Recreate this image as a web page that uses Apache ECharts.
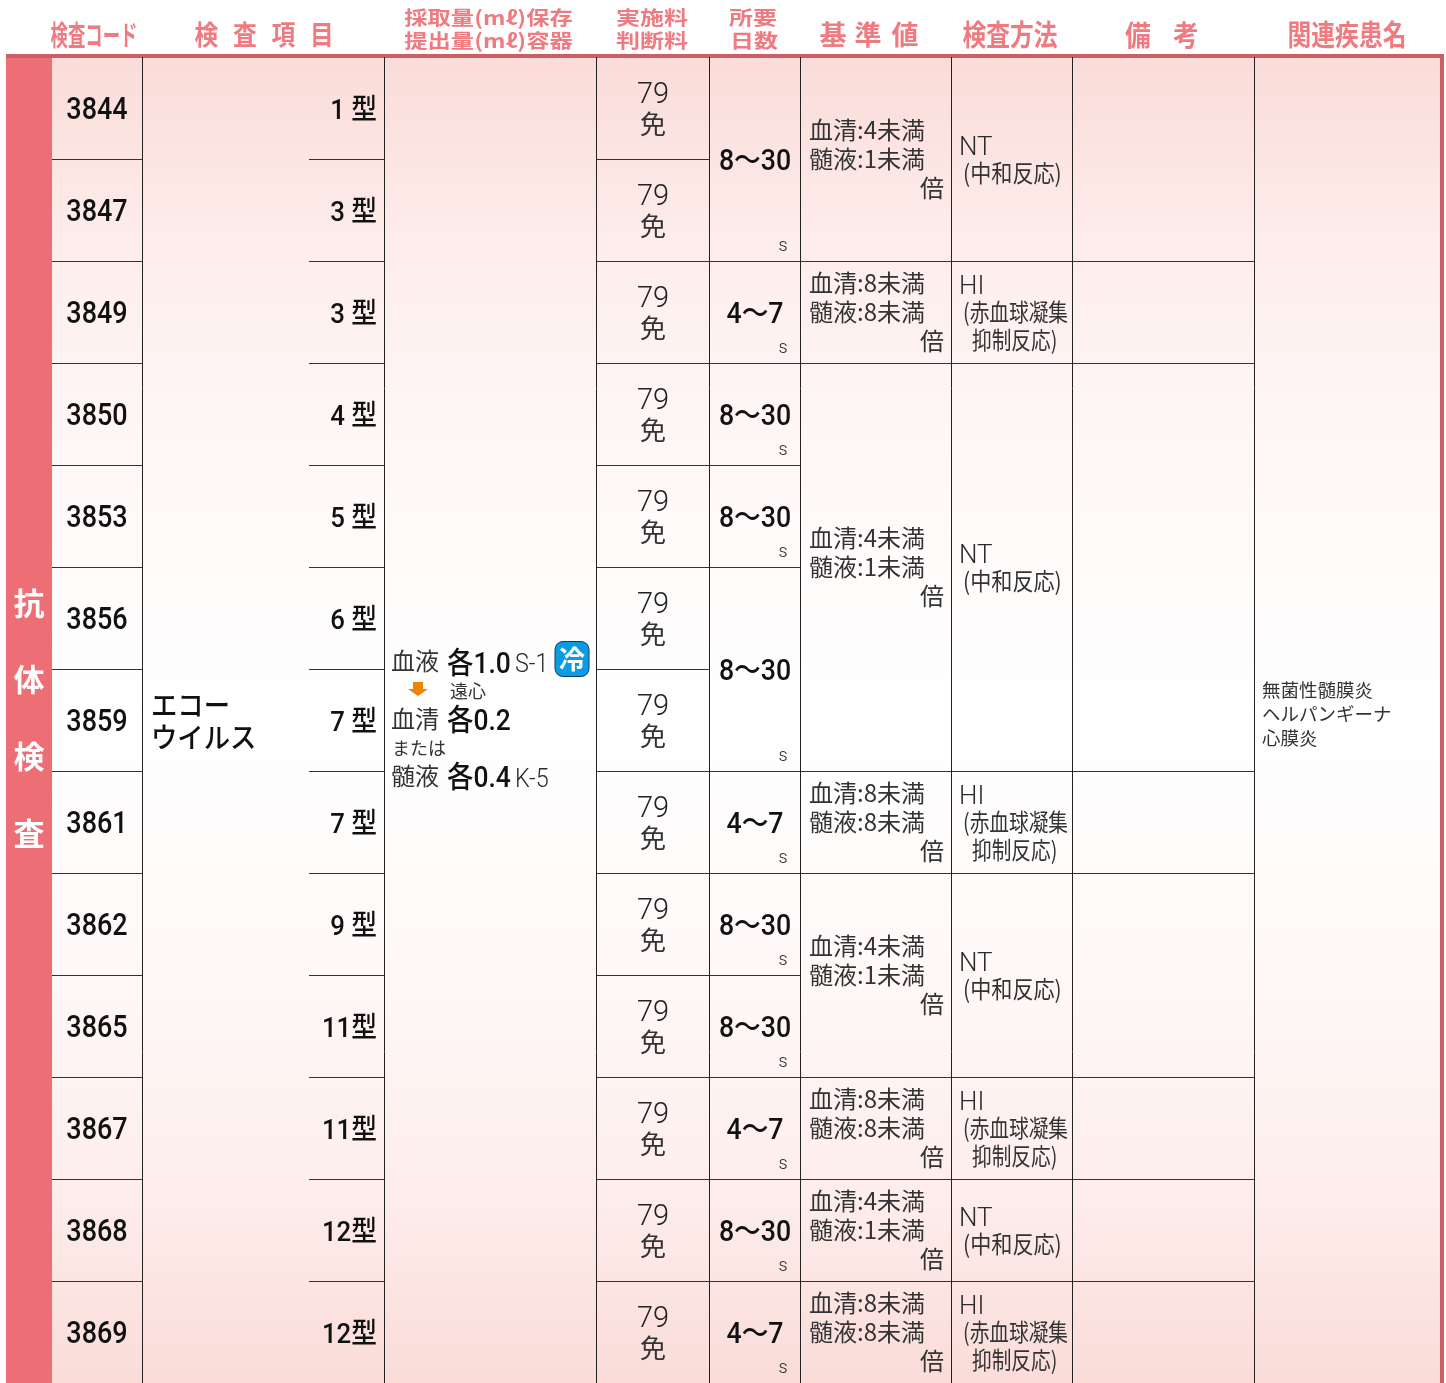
<!DOCTYPE html>
<html>
<head>
<meta charset="utf-8">
<title>抗体検査</title>
<script src="https://cdn.jsdelivr.net/npm/echarts@6/dist/echarts.min.js"></script>
<style>
  html, body { margin: 0; padding: 0; background: #fff; }
  #chart { width: 1446px; height: 1383px; }
</style>
</head>
<body>
<div id="chart"></div>
<script>
// table content
var codes = ['3844', '3847', '3849', '3850', '3853', '3856', '3859', '3861', '3862', '3865', '3867', '3868', '3869']
var types = ['1 型', '3 型', '3 型', '4 型', '5 型', '6 型', '7 型', '7 型', '9 型', '11型', '11型', '12型', '12型']
var fees = ['79', '79', '79', '79', '79', '79', '79', '79', '79', '79', '79', '79', '79']
var judge = ['免', '免', '免', '免', '免', '免', '免', '免', '免', '免', '免', '免', '免']
// [first row, row count, label]
var daySpans = [[0, 2, '8〜30'], [2, 1, '4〜7'], [3, 1, '8〜30'], [4, 1, '8〜30'], [5, 2, '8〜30'], [7, 1, '4〜7'], [8, 1, '8〜30'], [9, 1, '8〜30'], [10, 1, '4〜7'], [11, 1, '8〜30'], [12, 1, '4〜7']]
// [first row, row count, method]
var methodSpans = [[0, 2, 'NT'], [2, 1, 'HI'], [3, 4, 'NT'], [7, 1, 'HI'], [8, 2, 'NT'], [10, 1, 'HI'], [11, 1, 'NT'], [12, 1, 'HI']]
var baseText = {
  NT: ['血清:4未満', '髄液:1未満', '倍'],
  HI: ['血清:8未満', '髄液:8未満', '倍']
}
var methodText = {
  NT: ['NT', '(中和反応)'],
  HI: ['HI', '(赤血球凝集', '抑制反応)']
}
var sideTitle = ['抗', '体', '検', '査']
var itemName = ['エコー', 'ウイルス']
var diseases = ['無菌性髄膜炎', 'ヘルパンギーナ', '心膜炎']

// layout, x in px and y in table rows
var colX = [6, 52, 142.5, 384.5, 596.5, 709.5, 800.5, 951.5, 1072.5, 1254.5, 1440]
var rowCount = 13
var rowPx = 102
var yMin = -57 / rowPx

var JP = '"Noto Sans CJK JP"'
var NUM = 'Roboto, "Noto Sans CJK JP"'
var PINK = '#ef7a80'
var INK = '#2b2b2b'

var texts = []
function put(x, row, dy, text, size, opt) {
  opt = opt || {}
  var family = opt.family || JP
  texts.push({
    value: [x, row],
    // Roboto sits higher than the original digits
    dy: dy + (family === NUM ? 3.5 : 0),
    text: text,
    size: size,
    family: family,
    weight: opt.weight || 'normal',
    color: opt.color || INK,
    align: opt.align || 'left',
    sx: opt.sx || 1,
    sy: opt.sy || 1
  })
}

// header, y given as px below the first row top
function head(x, py, text, size, sx, sy) {
  put(x, yMin, py, text, size, { color: PINK, weight: 'bold', align: 'center', sx: sx || 1, sy: sy || 1 })
}
head(94, 35, '検査コード', 28, 0.62)
head(206.5, 35, '検', 27, 0.88); head(245, 35, '査', 27, 0.88); head(283.5, 35, '項', 27, 0.88); head(322, 35, '目', 27, 0.88)
head(488.5, 18, '採取量(mℓ)保存', 24, 0.97, 0.82)
head(488.5, 41, '提出量(mℓ)容器', 24, 0.97, 0.82)
head(652, 18, '実施料', 24, 1, 0.82); head(652, 41, '判断料', 24, 1, 0.82)
head(753, 18, '所要', 24, 1, 0.82); head(754, 41, '日数', 24, 1, 0.82)
head(833, 35, '基', 27); head(868, 35, '準', 27); head(905, 35, '値', 27)
head(1010, 35, '検査方法', 29, 0.82)
head(1138, 35, '備', 28, 0.92); head(1186, 35, '考', 28, 0.92)
head(1347, 35, '関連疾患名', 29, 0.82)

// side band
sideTitle.forEach(function (c, i) {
  put(29, 0, 603 - 57 + i * 76.7, c, 31, { color: '#fff', weight: 'bold', align: 'center' })
})

codes.forEach(function (code, i) {
  var mid = i + 0.5
  put(97, mid, 0, code, 31, { family: NUM, weight: 500, color: '#111', align: 'center', sx: 0.87 })
  put(377, mid, 0, types[i], 28, { family: NUM, weight: 500, color: '#111', align: 'right', sx: 0.92 })
  put(653, mid, -16, fees[i], 29, { family: NUM, weight: 300, color: '#222', align: 'center' })
  put(653, mid, 16, judge[i], 26, { align: 'center', color: '#333' })
})

daySpans.forEach(function (s) {
  var mid = s[0] + s[1] / 2
  put(755, mid, 0, s[2], 30, { family: NUM, weight: 500, color: '#111', align: 'center', sx: 0.89 })
  put(783, s[0] + s[1], -18, 's', 18, { family: NUM, weight: 300, align: 'center' })
})

methodSpans.forEach(function (s) {
  var mid = s[0] + s[1] / 2
  baseText[s[2]].forEach(function (line, j) {
    if (j === 2) put(944, mid, 29, line, 24, { align: 'right', color: '#333' })
    else put(809, mid, (j - 1) * 29, line, 24, { color: '#333', sx: 1.0 })
  })
  if (s[2] === 'NT') {
    put(959, mid, -14, 'NT', 26, { family: NUM, weight: 300 })
    put(963, mid, 14, methodText.NT[1], 24, { color: '#333', sx: 0.88 })
  } else {
    put(959, mid, -28, 'HI', 26, { family: NUM, weight: 300 })
    put(963, mid, 0, methodText.HI[1], 24, { color: '#333', sx: 0.82 })
    put(972, mid, 28, methodText.HI[2], 24, { color: '#333', sx: 0.82 })
  }
})

itemName.forEach(function (line, i) {
  put(151, 6.5, -15 + i * 32, line, 28, { color: '#111', weight: 500, sx: 0.94 })
})

diseases.forEach(function (line, i) {
  put(1262, 6.5, -30 + i * 24, line, 18.5, { color: '#333' })
})

// specimen cell
var specimenRow = 6
function spec(x, py, text, size, opt) { put(x, specimenRow, py - 669.5, text, size, opt) }
spec(391, 661, '血液', 24, { color: '#333' })
spec(447, 662, '各1.0', 30, { family: NUM, weight: 500, color: '#111', sx: 0.88 })
spec(515, 662, 'S-1', 26, { family: NUM, weight: 300, sx: 0.9 })
spec(450, 692, '遠心', 18, { color: '#333' })
spec(391, 719, '血清', 24, { color: '#333' })
spec(447, 719, '各0.2', 30, { family: NUM, weight: 500, color: '#111', sx: 0.88 })
spec(392, 749, 'または', 18, { color: '#333' })
spec(391, 776, '髄液', 24, { color: '#333' })
spec(447, 776, '各0.4', 30, { family: NUM, weight: 500, color: '#111', sx: 0.88 })
spec(515, 777, 'K-5', 26, { family: NUM, weight: 300, sx: 0.9 })

// rules: [x0, x1, row]
var hLines = []
var i
for (i = 1; i < rowCount; i++) {
  hLines.push([colX[1], colX[2], i])
  hLines.push([309, colX[3], i])
  hLines.push([colX[4], colX[5], i])
}
daySpans.forEach(function (s) {
  if (s[0] > 0) hLines.push([colX[5], colX[6], s[0]])
})
methodSpans.forEach(function (s) {
  if (s[0] > 0) hLines.push([colX[6], colX[9], s[0]])
})
var vLines = colX.slice(2, 10)

var chart = echarts.init(document.getElementById('chart'))

chart.setOption({
  animation: false,
  backgroundColor: '#fff',
  grid: { left: 0, right: 0, top: 0, bottom: 0 },
  xAxis: { type: 'value', min: 0, max: 1446, show: false },
  yAxis: { type: 'value', min: yMin, max: rowCount, inverse: true, show: false },
  series: [
    {
      // background panel, side band and frame
      type: 'custom',
      silent: true,
      clip: false,
      data: [[0]],
      renderItem: function (params, api) {
        var tl = api.coord([colX[1], 0])
        var br = api.coord([colX[10], rowCount])
        var bandL = api.coord([colX[0], 0])
        return {
          type: 'group',
          children: [
            {
              type: 'rect',
              shape: { x: tl[0], y: tl[1], width: br[0] - tl[0], height: br[1] - tl[1] },
              style: {
                fill: new echarts.graphic.LinearGradient(0, 0, 0, 1, [
                  { offset: 0, color: '#fadcd8' },
                  { offset: 0.15, color: '#fdeeec' },
                  { offset: 0.32, color: '#fef9f8' },
                  { offset: 0.5, color: '#ffffff' },
                  { offset: 0.68, color: '#fef9f8' },
                  { offset: 0.85, color: '#fdeeec' },
                  { offset: 1, color: '#fadcd8' }
                ])
              }
            },
            {
              type: 'rect',
              shape: { x: bandL[0], y: bandL[1], width: tl[0] - bandL[0], height: br[1] - tl[1] },
              style: { fill: '#ee6e75' }
            },
            {
              type: 'rect',
              shape: { x: bandL[0], y: tl[1] - 3, width: br[0] + 4 - bandL[0], height: 4 },
              style: { fill: '#cc5f66' }
            },
            {
              type: 'rect',
              shape: { x: br[0], y: tl[1] - 3, width: 4, height: br[1] - tl[1] + 3 },
              style: { fill: '#cc5f66' }
            }
          ]
        }
      }
    },
    {
      // horizontal rules
      type: 'custom',
      silent: true,
      data: hLines,
      renderItem: function (params, api) {
        var a = api.coord([api.value(0), api.value(2)])
        var b = api.coord([api.value(1), api.value(2)])
        return {
          type: 'line',
          shape: { x1: a[0], y1: a[1] + 0.5, x2: b[0], y2: b[1] + 0.5 },
          style: { stroke: '#333', lineWidth: 1 }
        }
      }
    },
    {
      // vertical rules
      type: 'custom',
      silent: true,
      data: vLines.map(function (x) { return [x] }),
      renderItem: function (params, api) {
        var a = api.coord([api.value(0), 0])
        var b = api.coord([api.value(0), rowCount])
        return {
          type: 'line',
          shape: { x1: a[0], y1: a[1], x2: b[0], y2: b[1] },
          style: { stroke: '#222', lineWidth: 1 }
        }
      }
    },
    {
      // orange arrow and the cold-storage badge of the specimen cell
      type: 'custom',
      silent: true,
      clip: false,
      data: [[418, specimenRow]],
      renderItem: function (params, api) {
        var p = api.coord([api.value(0), api.value(1)])
        var y0 = p[1] + 13
        return {
          type: 'group',
          children: [
            {
              type: 'polygon',
              shape: { points: [[p[0] - 5, y0], [p[0] + 5, y0], [p[0] + 5, y0 + 7], [p[0] + 10, y0 + 7], [p[0], y0 + 14], [p[0] - 10, y0 + 7], [p[0] - 5, y0 + 7]] },
              style: { fill: '#f08300' }
            },
            {
              type: 'rect',
              shape: { x: p[0] + 137, y: p[1] - 27.5, width: 34, height: 35, r: 8 },
              style: { fill: '#0a9be2', stroke: '#0b3f66', lineWidth: 1 }
            },
            {
              type: 'text',
              x: p[0] + 154,
              y: p[1] - 10,
              style: { text: '冷', fill: '#fff', font: 'bold 26px ' + JP, align: 'center', verticalAlign: 'middle' }
            }
          ]
        }
      }
    },
    {
      // every text of the table
      type: 'custom',
      silent: true,
      clip: false,
      data: texts,
      renderItem: function (params, api) {
        var t = texts[params.dataIndex]
        var p = api.coord([api.value(0), api.value(1)])
        return {
          type: 'text',
          x: p[0],
          y: p[1] + t.dy,
          scaleX: t.sx,
          scaleY: t.sy,
          style: {
            text: t.text,
            x: 0,
            y: 0,
            fill: t.color,
            font: t.weight + ' ' + t.size + 'px ' + t.family,
            align: t.align,
            verticalAlign: 'middle'
          }
        }
      }
    }
  ]
})
</script>
</body>
</html>
